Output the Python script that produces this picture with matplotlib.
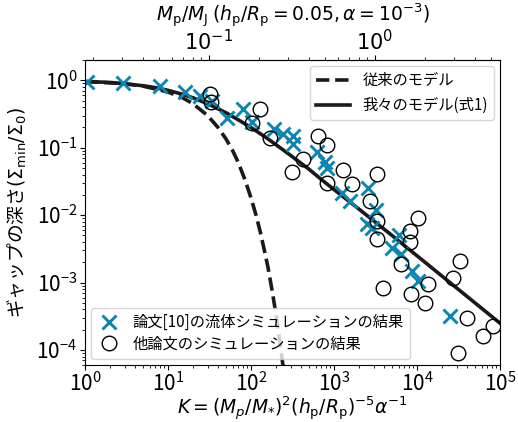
import numpy as np
import matplotlib
matplotlib.use("Agg")
import matplotlib.pyplot as plt
from matplotlib.ticker import LogLocator, NullFormatter

plt.rcParams['font.family'] = ['Noto Sans CJK JP', 'DejaVu Sans']
plt.rcParams['mathtext.fontset'] = 'dejavusans'

# ---- data ----
cross_K = [1.05, 2.9, 8, 16, 24, 34, 51, 80, 103, 190, 240, 320, 320, 620, 780, 820,
           1250, 1550, 2550, 3200, 2500, 2900, 6000, 5000, 6500, 8700, 10300, 25000]
cross_Y = [0.95, 0.9, 0.81, 0.67, 0.58, 0.5, 0.28, 0.38, 0.24, 0.19, 0.16, 0.15, 0.115, 0.085, 0.062, 0.05,
           0.021, 0.016, 0.025, 0.012, 0.0074, 0.0065, 0.005, 0.0033, 0.0027, 0.0015, 0.00107, 0.00032]

circ_K = [32, 33, 130, 103, 170, 310, 420, 640, 820, 820, 1300, 1650, 3300, 2700, 3300, 3300,
          3900, 10300, 8200, 8200, 6400, 13600, 8500, 12500, 33000, 27000, 40000, 83000, 63000, 31000]
circ_Y = [0.63, 0.48, 0.38, 0.23, 0.14, 0.043, 0.068, 0.15, 0.11, 0.030, 0.046, 0.029, 0.041, 0.016, 0.0083, 0.0045,
          0.00083, 0.0092, 0.0059, 0.0040, 0.0019, 0.00095, 0.00068, 0.0005, 0.0021, 0.00118, 0.0003, 0.00023, 0.00016, 0.000091]

old_K = [1, 3, 5, 10, 15, 20, 30, 40, 50, 60, 70, 85, 100, 115, 130, 145, 160, 180, 200, 225, 250, 280]
old_Y = [0.96, 0.89, 0.82, 0.67, 0.55, 0.45, 0.30, 0.20, 0.135, 0.091, 0.061, 0.033, 0.018, 0.010, 0.0055,
         0.0030, 0.0017, 0.00075, 0.00034, 0.00012, 4.5e-5, 1.4e-5]

new_K = [1, 2, 3, 5, 7, 10, 15, 20, 30, 50, 70, 100, 150, 200, 300, 500, 700, 1000, 2000, 5000,
         10000, 20000, 50000, 100000]
new_Y = [0.96, 0.93, 0.89, 0.83, 0.78, 0.71, 0.62, 0.55, 0.45, 0.33, 0.26, 0.20, 0.143, 0.111, 0.077,
         0.048, 0.034, 0.024, 0.0123, 0.0050, 0.0025, 0.00125, 0.0005, 0.00025]

labels_lines = ['従来のモデル', '我々のモデル(式1)']
labels_pts = ['論文[10]の流体シミュレーションの結果', '他論文のシミュレーションの結果']
K_per_MJ2 = 3100.0  # K at Mp/MJ = 1
top_ticks = [0.1, 1.0]
top_ticklabels = [r'$10^{-1}$', r'$10^{0}$']

xlabel = r'$K=(M_p/M_{*})^2(h_\mathrm{p}/R_\mathrm{p})^{-5}\alpha^{-1}$'
ylabel = r'ギャップの深さ$(\Sigma_\mathrm{min}/\Sigma_0)$'
toplabel = r'$M_\mathrm{p}/M_\mathrm{J}$ $(h_\mathrm{p}/R_\mathrm{p}=0.05, \alpha=10^{-3})$'

# ---- figure ----
fig = plt.figure(figsize=(5.18, 4.22), dpi=100)
ax = fig.add_axes([85/518, 1-365/422, 415/518, 305/422])

xcol = '#0a86b0'
l1, = ax.plot(old_K, old_Y, ls='--', color='#1a1a1a', lw=2.6)
l2, = ax.plot(new_K, new_Y, ls='-', color='#1a1a1a', lw=2.6)
p1, = ax.plot(cross_K, cross_Y, ls='none', marker='x', ms=10, mew=2.1, color=xcol)
p2, = ax.plot(circ_K, circ_Y, ls='none', marker='o', ms=10.5, mfc='none', mec='black', mew=1)

ax.set_xscale('log')
ax.set_yscale('log')
ax.set_xlim(1, 1e5)
ax.set_ylim(6e-5, 2.0)
ax.set_xticks([1, 10, 100, 1e3, 1e4, 1e5])
ax.set_yticks([1e-4, 1e-3, 1e-2, 1e-1, 1])
ax.tick_params(labelsize=15, pad=2)
ax.set_xlabel(xlabel, fontsize=13.5, labelpad=-1)
ax.set_ylabel(ylabel, fontsize=13.5, labelpad=5)

leg1 = ax.legend([l1, l2], labels_lines, loc='upper right', fontsize=11,
                 handlelength=2.2, borderaxespad=0.4)
ax.add_artist(leg1)
ax.legend([p1, p2], labels_pts, loc='lower left', fontsize=11,
          handlelength=1.5, borderaxespad=0.4, labelspacing=0.3)

sec = ax.secondary_xaxis('top', functions=(lambda k: np.sqrt(np.clip(k, 1e-12, None) / K_per_MJ2),
                                           lambda m: K_per_MJ2 * np.asarray(m) ** 2))
sec.set_xscale('log')
sec.set_xticks(top_ticks)
sec.set_xticklabels(top_ticklabels)
sec.xaxis.set_minor_locator(LogLocator(base=10, subs=np.arange(2, 10)))
sec.xaxis.set_minor_formatter(NullFormatter())
sec.tick_params(labelsize=15, pad=0)
sec.set_xlabel(toplabel, fontsize=13.5, labelpad=6)

fig.savefig('out.png', dpi=100)
